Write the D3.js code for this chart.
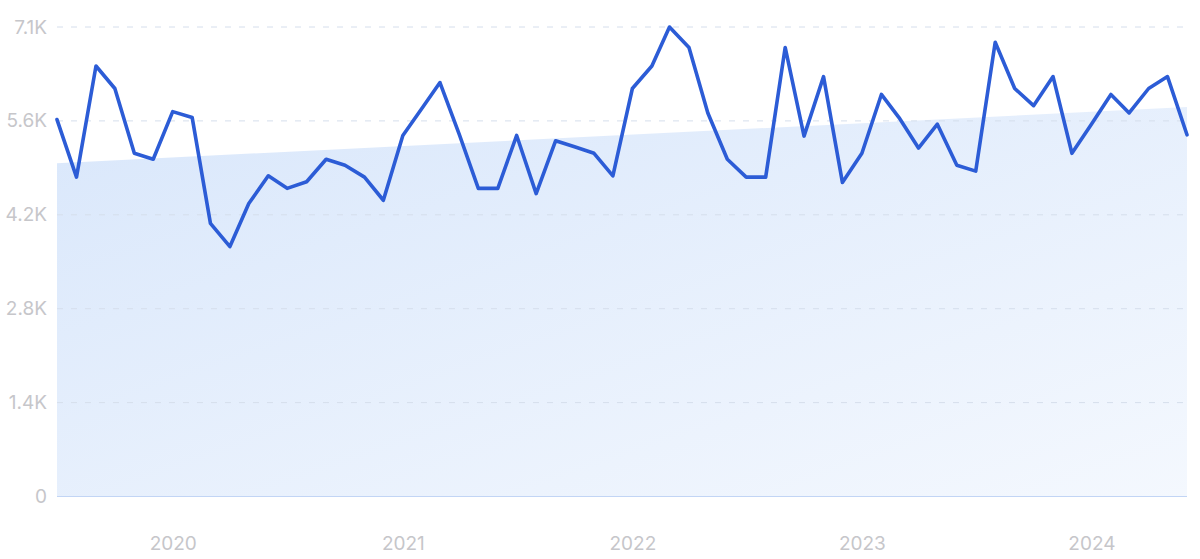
<!DOCTYPE html>
<html>
<head>
<meta charset="utf-8">
<script src="https://cdn.jsdelivr.net/npm/d3@7"></script>
<style>
  html, body { margin: 0; padding: 0; background: #ffffff; }
  svg { display: block; }
  text { font-family: Inter, "Noto Sans", sans-serif; }
</style>
</head>
<body>
<svg id="chart" width="1200" height="559"></svg>
<script>
// ---- data ----
const startMonth = "2019-07";
const values = [
  5700, 4830, 6510, 6170, 5190, 5100, 5820, 5730, 4130, 3780, 4430, 4850,
  4660, 4760, 5100, 5010, 4830, 4480, 5460, 5880, 6260, 5470, 4660, 4660,
  5460, 4580, 5380, 5290, 5190, 4850, 6170, 6510, 7100, 6790, 5800, 5100,
  4830, 4830, 6790, 5450, 6350, 4750, 5190, 6080, 5730, 5270, 5630, 5010,
  4920, 6870, 6170, 5910, 6350, 5190, 5630, 6080, 5800, 6170, 6350, 5470
];
const trendValues = [5040, 5890];
const yTickValues = [0, 1420, 2840, 4260, 5680, 7100];
const yTickLabels = ["0", "1.4K", "2.8K", "4.2K", "5.6K", "7.1K"];
const xTickYears = [2020, 2021, 2022, 2023, 2024];

// ---- build ----
const parse = d3.timeParse("%Y-%m");
const t0 = parse(startMonth);
const data = values.map((v, i) => ({ date: d3.timeMonth.offset(t0, i), value: v }));

const margin = { left: 57, right: 13, top: 27, bottom: 62.5 };
const W = 1200, H = 559;
const svg = d3.select("#chart");

const x = d3.scaleTime()
  .domain(d3.extent(data, d => d.date))
  .range([margin.left, W - margin.right]);
const y = d3.scaleLinear()
  .domain([0, 7100])
  .range([H - margin.bottom, margin.top]);

// gradient for trend area
const defs = svg.append("defs");
const grad = defs.append("linearGradient")
  .attr("id", "areaGrad")
  .attr("x1", "0%").attr("y1", "0%")
  .attr("x2", "100%").attr("y2", "100%");
grad.append("stop").attr("offset", "0%").attr("stop-color", "#d9e7fb");
grad.append("stop").attr("offset", "100%").attr("stop-color", "#f4f8fe");

// trend area
const x0 = x.domain()[0], x1 = x.domain()[1];
const trendData = [{ date: x0, value: trendValues[0] }, { date: x1, value: trendValues[1] }];
svg.append("path")
  .datum(trendData)
  .attr("fill", "url(#areaGrad)")
  .attr("d", d3.area().x(d => x(d.date)).y0(y(0)).y1(d => y(d.value)));

// grid lines
const grid = svg.append("g");
grid.selectAll("line")
  .data(yTickValues.filter(v => v > 0))
  .join("line")
  .attr("x1", margin.left).attr("x2", W - margin.right)
  .attr("y1", d => y(d)).attr("y2", d => y(d))
  .attr("stroke", "#d5deec")
  .attr("stroke-width", 1)
  .attr("stroke-dasharray", "6,8");

// baseline
svg.append("line")
  .attr("x1", margin.left).attr("x2", W - margin.right)
  .attr("y1", y(0)).attr("y2", y(0))
  .attr("stroke", "#c2d5f5").attr("stroke-width", 1.2);

// y axis labels
const yAxis = d3.axisLeft(y)
  .tickValues(yTickValues)
  .tickFormat((d, i) => yTickLabels[i])
  .tickSize(0).tickPadding(10);
const gy = svg.append("g")
  .attr("transform", `translate(${margin.left},0)`)
  .call(yAxis);
gy.select(".domain").remove();
gy.selectAll("text")
  .attr("fill", "#c6c6ca")
  .style("font-size", "19px");

// x axis labels
const xAxis = d3.axisBottom(x)
  .tickValues(xTickYears.map(yr => new Date(yr, 0, 1)))
  .tickFormat(d3.timeFormat("%Y"))
  .tickSize(0).tickPadding(40);
const gx = svg.append("g")
  .attr("transform", `translate(0,${y(0)})`)
  .call(xAxis);
gx.select(".domain").remove();
gx.selectAll("text")
  .attr("fill", "#c6c6ca")
  .style("font-size", "19px");

// line
svg.append("path")
  .datum(data)
  .attr("fill", "none")
  .attr("stroke", "#2c5cd6")
  .attr("stroke-width", 3.6)
  .attr("stroke-linejoin", "round")
  .attr("stroke-linecap", "round")
  .attr("d", d3.line().x(d => x(d.date)).y(d => y(d.value)));
</script>
</body>
</html>
